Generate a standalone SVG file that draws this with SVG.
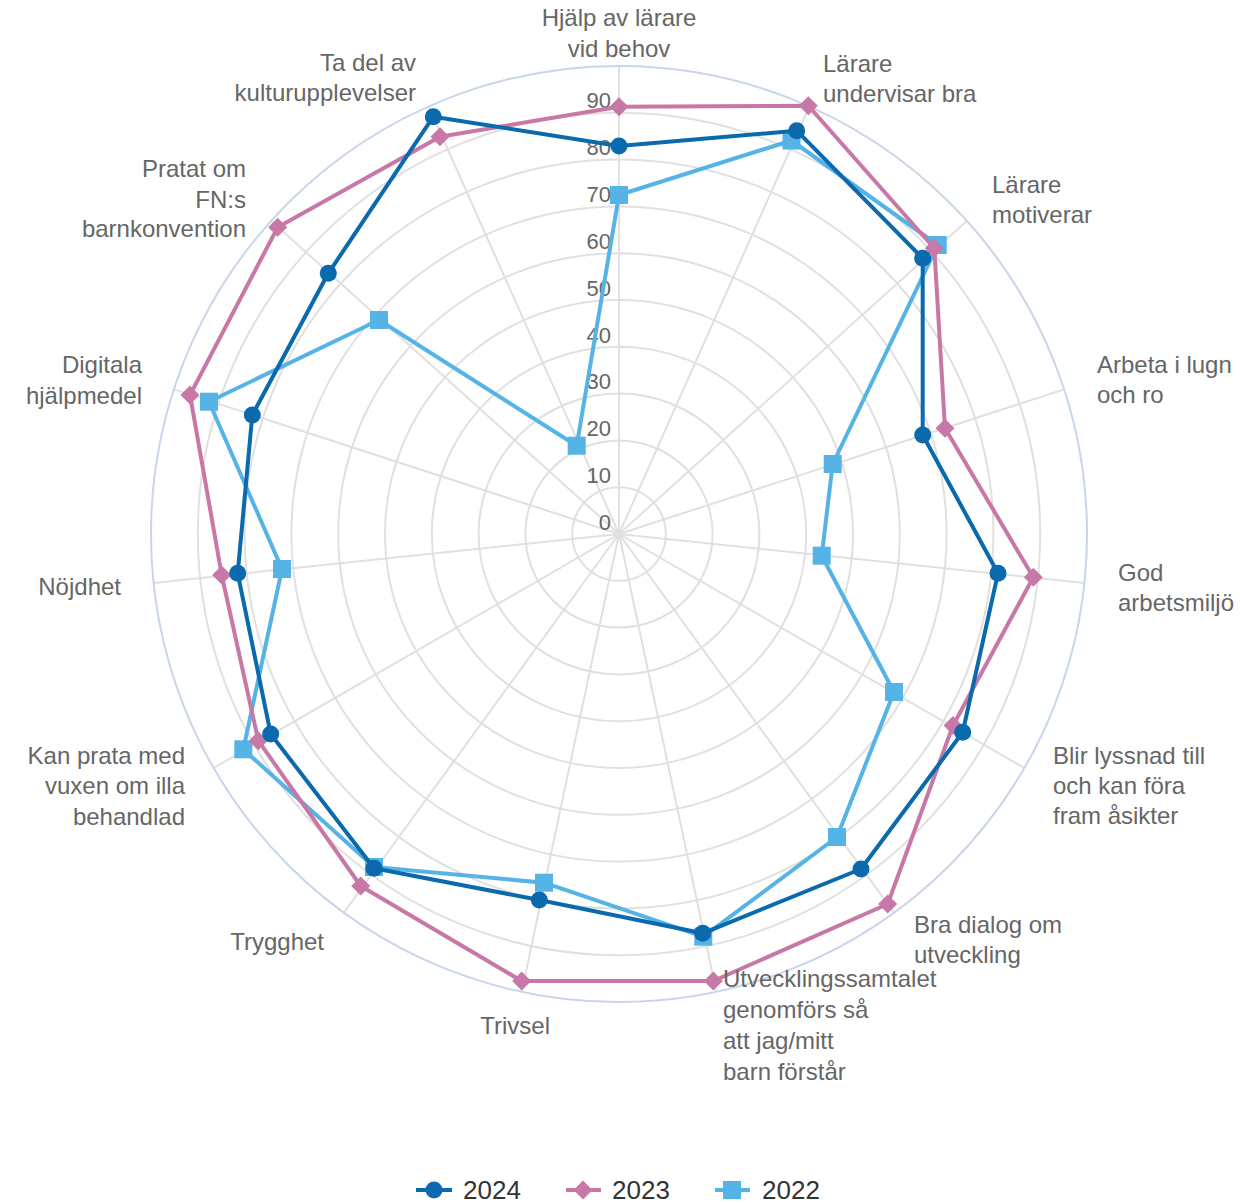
<svg xmlns="http://www.w3.org/2000/svg" xmlns:xlink="http://www.w3.org/1999/xlink" width="1240" height="1203" viewBox="0 0 1240 1203">
<style>
.grid{fill:none;stroke:#e0e0e0;stroke-width:2}
.outer{fill:none;stroke:#c9d5ea;stroke-width:2}
.lbl{font-family:"Liberation Sans",Arial,sans-serif;font-size:24px;fill:#666}
.scale{font-family:"Liberation Sans",Arial,sans-serif;font-size:22px;fill:#666;text-anchor:end}
.leg{font-family:"Liberation Sans",Arial,sans-serif;font-size:26px;fill:#333}
.s24{fill:none;stroke:#0a6aad;stroke-width:4;stroke-linejoin:round}
.s23{fill:none;stroke:#c878a6;stroke-width:4;stroke-linejoin:round}
.s22{fill:none;stroke:#56b3e6;stroke-width:4;stroke-linejoin:round}
</style>
<defs>
<circle id="m24" r="8.5" fill="#0a6aad"/>
<path id="m23" d="M0,-9.5 L9.5,0 L0,9.5 L-9.5,0 Z" fill="#c878a6"/>
<rect id="m22" x="-9" y="-9" width="18" height="18" fill="#56b3e6"/>
</defs>
<rect width="1240" height="1203" fill="#fff"/>
<g id="grid">
<circle class="grid" cx="619" cy="534" r="46.8"/>
<circle class="grid" cx="619" cy="534" r="93.6"/>
<circle class="grid" cx="619" cy="534" r="140.4"/>
<circle class="grid" cx="619" cy="534" r="187.2"/>
<circle class="grid" cx="619" cy="534" r="234"/>
<circle class="grid" cx="619" cy="534" r="280.8"/>
<circle class="grid" cx="619" cy="534" r="327.6"/>
<circle class="grid" cx="619" cy="534" r="374.4"/>
<circle class="grid" cx="619" cy="534" r="421.2"/>
<path class="grid" d="M619,534L619,66M619,534L809.3,106.5M619,534L966.8,220.9M619,534L1064.1,389.4M619,534L1084.4,582.9M619,534L1024.3,768M619,534L894.1,912.6M619,534L716.3,991.8M619,534L521.7,991.8M619,534L343.9,912.6M619,534L213.7,768M619,534L153.6,582.9M619,534L173.9,389.4M619,534L271.2,220.9M619,534L428.7,106.5"/>
<circle class="outer" cx="619" cy="534" r="468"/>
</g>
<g id="scale">
<text class="scale" x="611" y="530">0</text>
<text class="scale" x="611" y="483">10</text>
<text class="scale" x="611" y="436">20</text>
<text class="scale" x="611" y="389">30</text>
<text class="scale" x="611" y="343">40</text>
<text class="scale" x="611" y="296">50</text>
<text class="scale" x="611" y="249">60</text>
<text class="scale" x="611" y="202">70</text>
<text class="scale" x="611" y="155">80</text>
<text class="scale" x="611" y="108">90</text>
</g>
<g id="connectors">
<g id="series-2022">
<polygon class="s22" points="619,195 791.5,140.5 937.7,245 832.7,464 821.7,555.7 894,692 837,837 703.3,936.7 544,882.7 374,867 243.3,749.3 282,569 209,401.7 379,320 576.7,445.7"/>
<use xlink:href="#m22" x="619" y="195"/><use xlink:href="#m22" x="791.5" y="140.5"/><use xlink:href="#m22" x="937.7" y="245"/><use xlink:href="#m22" x="832.7" y="464"/><use xlink:href="#m22" x="821.7" y="555.7"/><use xlink:href="#m22" x="894" y="692"/><use xlink:href="#m22" x="837" y="837"/><use xlink:href="#m22" x="703.3" y="936.7"/><use xlink:href="#m22" x="544" y="882.7"/><use xlink:href="#m22" x="374" y="867"/><use xlink:href="#m22" x="243.3" y="749.3"/><use xlink:href="#m22" x="282" y="569"/><use xlink:href="#m22" x="209" y="401.7"/><use xlink:href="#m22" x="379" y="320"/><use xlink:href="#m22" x="576.7" y="445.7"/>
</g>
<g id="series-2023">
<polygon class="s23" points="619,106.7 808.3,105.7 934.3,248.3 945,428.3 1033.3,577.3 953,725.5 887.7,904 713.3,981 521.7,981 360.7,886 258.3,740.7 221.7,575 190,395 277.7,227.3 440,136.7"/>
<use xlink:href="#m23" x="619" y="106.7"/><use xlink:href="#m23" x="808.3" y="105.7"/><use xlink:href="#m23" x="934.3" y="248.3"/><use xlink:href="#m23" x="945" y="428.3"/><use xlink:href="#m23" x="1033.3" y="577.3"/><use xlink:href="#m23" x="953" y="725.5"/><use xlink:href="#m23" x="887.7" y="904"/><use xlink:href="#m23" x="713.3" y="981"/><use xlink:href="#m23" x="521.7" y="981"/><use xlink:href="#m23" x="360.7" y="886"/><use xlink:href="#m23" x="258.3" y="740.7"/><use xlink:href="#m23" x="221.7" y="575"/><use xlink:href="#m23" x="190" y="395"/><use xlink:href="#m23" x="277.7" y="227.3"/><use xlink:href="#m23" x="440" y="136.7"/>
</g>
<g id="series-2024">
<polygon class="s24" points="619,146 796.7,130.7 922.7,258.3 922.7,435 998,573.3 962.7,732.3 861,869 702.7,933.3 539.3,900 374,868.3 270.7,734 237.7,573.3 252.3,415 328.3,273.3 433.3,116.7"/>
<use xlink:href="#m24" x="619" y="146"/><use xlink:href="#m24" x="796.7" y="130.7"/><use xlink:href="#m24" x="922.7" y="258.3"/><use xlink:href="#m24" x="922.7" y="435"/><use xlink:href="#m24" x="998" y="573.3"/><use xlink:href="#m24" x="962.7" y="732.3"/><use xlink:href="#m24" x="861" y="869"/><use xlink:href="#m24" x="702.7" y="933.3"/><use xlink:href="#m24" x="539.3" y="900"/><use xlink:href="#m24" x="374" y="868.3"/><use xlink:href="#m24" x="270.7" y="734"/><use xlink:href="#m24" x="237.7" y="573.3"/><use xlink:href="#m24" x="252.3" y="415"/><use xlink:href="#m24" x="328.3" y="273.3"/><use xlink:href="#m24" x="433.3" y="116.7"/>
</g>
</g>
<g id="labels">
<text class="lbl" x="619" y="26" text-anchor="middle">Hjälp av lärare<tspan x="619" y="57">vid behov</tspan></text>
<text class="lbl" x="823" y="72">Lärare<tspan x="823" y="102">undervisar bra</tspan></text>
<text class="lbl" x="992" y="193">Lärare<tspan x="992" y="223">motiverar</tspan></text>
<text class="lbl" x="1097" y="373">Arbeta i lugn<tspan x="1097" y="403">och ro</tspan></text>
<text class="lbl" x="1118" y="581">God<tspan x="1118" y="611">arbetsmiljö</tspan></text>
<text class="lbl" x="1053" y="764">Blir lyssnad till<tspan x="1053" y="794">och kan föra</tspan><tspan x="1053" y="824">fram åsikter</tspan></text>
<text class="lbl" x="914" y="933">Bra dialog om<tspan x="914" y="963">utveckling</tspan></text>
<text class="lbl" x="723" y="987">Utvecklingssamtalet<tspan x="723" y="1018">genomförs så</tspan><tspan x="723" y="1049">att jag/mitt</tspan><tspan x="723" y="1080">barn förstår</tspan></text>
<text class="lbl" x="550" y="1034" text-anchor="end">Trivsel</text>
<text class="lbl" x="324" y="950" text-anchor="end">Trygghet</text>
<text class="lbl" x="185" y="764" text-anchor="end">Kan prata med<tspan x="185" y="794">vuxen om illa</tspan><tspan x="185" y="825">behandlad</tspan></text>
<text class="lbl" x="121" y="595" text-anchor="end">Nöjdhet</text>
<text class="lbl" x="142" y="373" text-anchor="end">Digitala<tspan x="142" y="404">hjälpmedel</tspan></text>
<text class="lbl" x="246" y="177" text-anchor="end">Pratat om<tspan x="246" y="208">FN:s</tspan><tspan x="246" y="237">barnkonvention</tspan></text>
<text class="lbl" x="416" y="71" text-anchor="end">Ta del av<tspan x="416" y="101">kulturupplevelser</tspan></text>
</g>
<g id="legend">
<line x1="416" y1="1190" x2="452" y2="1190" stroke="#0a6aad" stroke-width="4"/>
<use xlink:href="#m24" x="434" y="1190"/>
<text class="leg" x="463" y="1199">2024</text>
<line x1="566" y1="1190" x2="601" y2="1190" stroke="#c878a6" stroke-width="4"/>
<use xlink:href="#m23" x="583" y="1190"/>
<text class="leg" x="612" y="1199">2023</text>
<line x1="715" y1="1190" x2="750" y2="1190" stroke="#56b3e6" stroke-width="4"/>
<use xlink:href="#m22" x="732" y="1190"/>
<text class="leg" x="762" y="1199">2022</text>
</g>
</svg>
